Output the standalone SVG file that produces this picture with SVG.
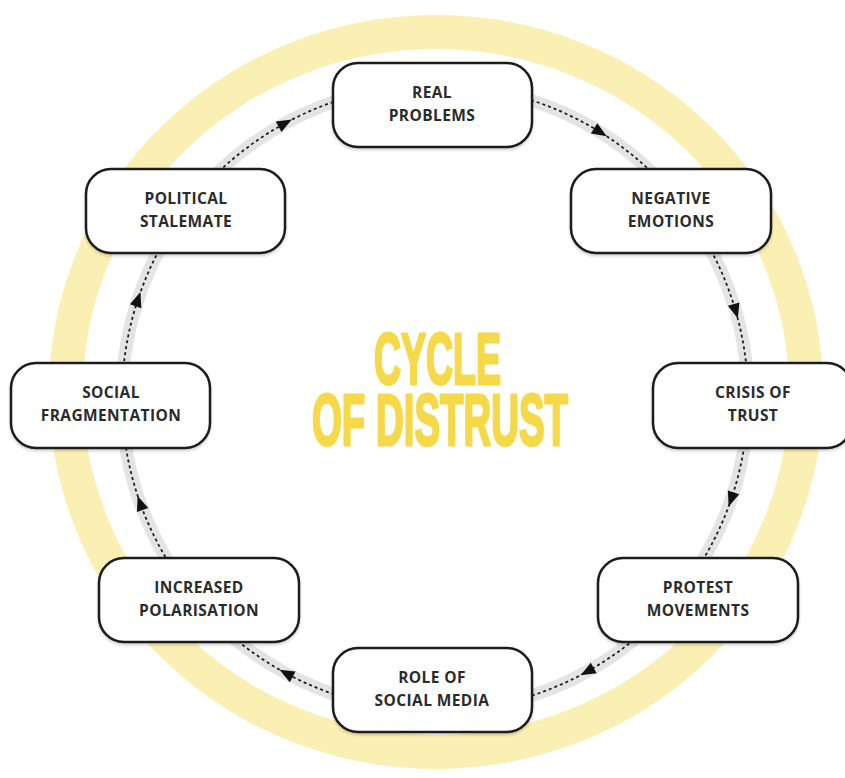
<svg xmlns="http://www.w3.org/2000/svg" width="845" height="778" viewBox="0 0 845 778">
  <style>
    .ring { fill: none; stroke: #FBF0B4; stroke-width: 34; }
    .track { fill: none; stroke: #E4E4E4; stroke-width: 13; }
    .dash { fill: none; stroke: #1f1f1f; stroke-width: 1.8; stroke-dasharray: 3 3; }
    .arrow { fill: #111111; }
    .box { fill: #FFFFFF; stroke: #1c1c1c; stroke-width: 2.5; filter: url(#sh); }
    .lbl { font-family: "Open Sans", "Noto Sans", "Liberation Sans", sans-serif; font-weight: 700; font-size: 15.5px; letter-spacing: 0.4px; fill: #2b2b2b; text-anchor: middle; }
    .title { font-family: "Liberation Sans", "Arial", sans-serif; font-weight: 700; font-size: 72px; fill: #F6D94A; stroke: #F6D94A; stroke-width: 3; stroke-linejoin: round; }
  </style>
  <defs>
    <filter id="sh" x="-10%" y="-10%" width="120%" height="130%">
      <feDropShadow dx="0" dy="2" stdDeviation="1.5" flood-color="#000000" flood-opacity="0.18"/>
    </filter>
    <path id="ah" d="M -6 -8 L 6 -8 L 0 7 Z"/>
  </defs>
  <rect width="845" height="778" fill="#FFFFFF"/>
  <ellipse class="ring" cx="436" cy="392" rx="370" ry="360"/>

  <g id="connectors">
    <circle class="track" cx="435" cy="398" r="313"/>
    <circle class="dash" cx="435" cy="398" r="313"/>
    <g class="arrow">
      <use href="#ah" transform="rotate(-58 435 398) translate(748 398)"/>
      <use href="#ah" transform="rotate(-16 435 398) translate(748 398)"/>
      <use href="#ah" transform="rotate(19 435 398) translate(748 398)"/>
      <use href="#ah" transform="rotate(61 435 398) translate(748 398)"/>
      <use href="#ah" transform="rotate(118.5 435 398) translate(748 398)"/>
      <use href="#ah" transform="rotate(160.5 435 398) translate(748 398)"/>
      <use href="#ah" transform="rotate(198.5 435 398) translate(748 398)"/>
      <use href="#ah" transform="rotate(241.5 435 398) translate(748 398)"/>
    </g>
  </g>

  <g id="real-problems">
    <rect class="box" x="333" y="63" width="199" height="84" rx="25"/>
    <text class="lbl" x="432" y="98">REAL</text>
    <text class="lbl" x="432" y="121">PROBLEMS</text>
  </g>
  <g id="negative-emotions">
    <rect class="box" x="571" y="169" width="200" height="84" rx="25"/>
    <text class="lbl" x="671" y="204">NEGATIVE</text>
    <text class="lbl" x="671" y="227">EMOTIONS</text>
  </g>
  <g id="crisis-of-trust">
    <rect class="box" x="653" y="363" width="199" height="85" rx="25"/>
    <text class="lbl" x="753" y="398">CRISIS OF</text>
    <text class="lbl" x="753" y="421">TRUST</text>
  </g>
  <g id="protest-movements">
    <rect class="box" x="598" y="558" width="200" height="84" rx="25"/>
    <text class="lbl" x="698" y="593">PROTEST</text>
    <text class="lbl" x="698" y="616">MOVEMENTS</text>
  </g>
  <g id="role-of-social-media">
    <rect class="box" x="333" y="648" width="199" height="84" rx="25"/>
    <text class="lbl" x="432" y="683">ROLE OF</text>
    <text class="lbl" x="432" y="706">SOCIAL MEDIA</text>
  </g>
  <g id="increased-polarisation">
    <rect class="box" x="99" y="558" width="200" height="84" rx="25"/>
    <text class="lbl" x="199" y="593">INCREASED</text>
    <text class="lbl" x="199" y="616">POLARISATION</text>
  </g>
  <g id="social-fragmentation">
    <rect class="box" x="11" y="363" width="199" height="85" rx="25"/>
    <text class="lbl" x="111" y="398">SOCIAL</text>
    <text class="lbl" x="111" y="421">FRAGMENTATION</text>
  </g>
  <g id="political-stalemate">
    <rect class="box" x="86" y="169" width="199" height="84" rx="25"/>
    <text class="lbl" x="186" y="204">POLITICAL</text>
    <text class="lbl" x="186" y="227">STALEMATE</text>
  </g>

  <g id="title">
    <text class="title" x="374" y="384" textLength="127" lengthAdjust="spacingAndGlyphs">CYCLE</text>
    <text class="title" x="312" y="445" textLength="256" lengthAdjust="spacingAndGlyphs">OF DISTRUST</text>
  </g>
</svg>
